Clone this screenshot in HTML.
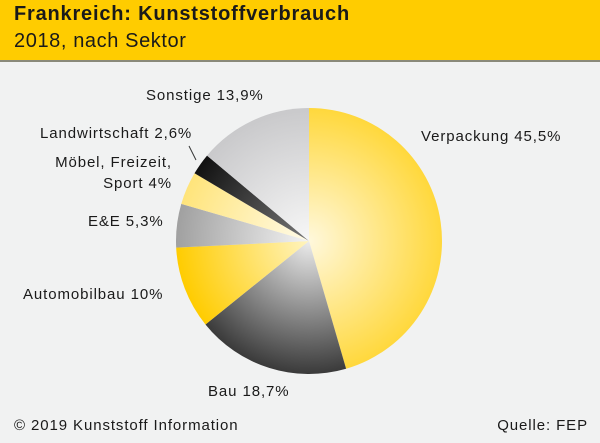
<!DOCTYPE html>
<html><head><meta charset="utf-8"><style>
body{margin:0;width:600px;height:443px;background:#f1f2f2;font-family:"Liberation Sans",sans-serif;color:#1a1a1a;position:relative;overflow:hidden}
.hdr{position:absolute;left:0;top:0;width:600px;height:60px;background:#ffcc00;border-bottom:2px solid #8a8a7a}
.t1{position:absolute;left:14px;top:3px;font-size:20px;font-weight:bold;letter-spacing:0.8px}
.t2{position:absolute;left:14px;top:30px;font-size:20px;letter-spacing:0.6px}
.l{position:absolute;font-size:15px;white-space:nowrap;letter-spacing:0.9px}
</style></head><body>
<div class="hdr"><div class="t1">Frankreich: Kunststoffverbrauch</div><div class="t2">2018, nach Sektor</div></div>
<svg id="s" width="600" height="443" style="position:absolute;left:0;top:0"></svg>
<div class="l" style="left:421px;top:128px">Verpackung 45,5%</div>
<div class="l" style="left:208px;top:383px">Bau 18,7%</div>
<div class="l" style="left:23px;top:286px">Automobilbau 10%</div>
<div class="l" style="left:88px;top:213px">E&amp;E 5,3%</div>
<div class="l" style="right:428px;top:152px;text-align:right;line-height:21px">Möbel, Freizeit,<br>Sport 4%</div>
<div class="l" style="left:40px;top:125px">Landwirtschaft 2,6%</div>
<div class="l" style="left:146px;top:87px">Sonstige 13,9%</div>
<div class="l" style="left:14px;top:417px">© 2019 Kunststoff Information</div>
<div class="l" style="right:12px;top:417px">Quelle: FEP</div>
<script>
var cx=309,cy=241,r=133;
var d=[[45.5,'#fff8dc','#ffd83c'],[18.7,'#ececec','#3a3a3a'],[10,'#fff4c0','#ffcc00'],[5.3,'#f4f4f4','#a0a0a0'],[4,'#fffbea','#ffe47a'],[2.6,'#777','#111'],[13.9,'#f7f7f7','#c9c9cb']];
var s='<defs>',p='',a=0;
d.forEach(function(x,i){
 s+='<radialGradient id="g'+i+'" gradientUnits="userSpaceOnUse" cx="'+cx+'" cy="'+cy+'" r="'+r+'"><stop offset="0" stop-color="'+x[1]+'"/><stop offset="1" stop-color="'+x[2]+'"/></radialGradient>';
 var a2=a+x[0]*3.6,r1=(a-90)*Math.PI/180,r2=(a2-90)*Math.PI/180;
 p+='<path fill="url(#g'+i+')" d="M'+cx+','+cy+'L'+(cx+r*Math.cos(r1))+','+(cy+r*Math.sin(r1))+'A'+r+','+r+' 0 '+(x[0]>50?1:0)+' 1 '+(cx+r*Math.cos(r2))+','+(cy+r*Math.sin(r2))+'Z"/>';
 a=a2;
});
s+='</defs>'+p+'<line x1="189" y1="146" x2="196" y2="160" stroke="#333" stroke-width="1"/>';
document.getElementById('s').innerHTML=s;
</script>
</body></html>
